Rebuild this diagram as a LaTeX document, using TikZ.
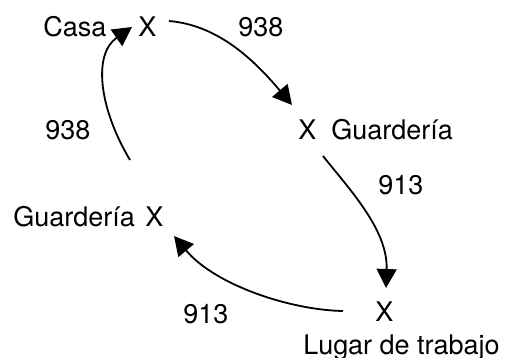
\documentclass[tikz,border=0pt]{standalone}
\usepackage{fontspec}
\setmainfont{TeX Gyre Heros}
\usetikzlibrary{arrows.meta}
\begin{document}
\begin{tikzpicture}[x=0.5pt,y=-0.5pt,
  lbl/.style={inner sep=0pt,anchor=base west,font=\fontsize{13.5}{16}\selectfont},
  conn/.style={line width=0.9pt,-{Triangle[length=9.5pt,width=10pt]}}]
\useasboundingbox (0,0) rectangle (510,358);
% texts
\node[lbl] (casa) at (43,37) {Casa};
\node[lbl] (xA) at (138,37) {X};
\node[lbl] (n938a) at (238,37) {938};
\node[lbl] (n938b) at (45,140) {938};
\node[lbl] (xB) at (298,140) {X};
\node[lbl] (guardB) at (331,140) {Guardería};
\node[lbl] (n913a) at (378,195) {913};
\node[lbl] (guardD) at (13,227) {Guardería};
\node[lbl] (xD) at (145,227) {X};
\node[lbl] (n913b) at (183,324) {913};
\node[lbl] (xC) at (375,322) {X};
\node[lbl] (lugar) at (303,355) {Lugar de trabajo};
% connector ends
\coordinate (a0) at (169,21);
\coordinate (a1) at (292,105);
\coordinate (b0) at (323,156);
\coordinate (b1) at (386,288);
\coordinate (c0) at (343,311);
\coordinate (c1) at (174,236);
\coordinate (d0) at (130,160);
\coordinate (d1) at (132,27);
% connectors
\draw[conn] (a0) .. controls (215,25) and (250,55) .. (a1);
\draw[conn] (b0) .. controls (350,190) and (388,230) .. (b1);
\draw[conn] (c0) .. controls (290,310) and (215,285) .. (c1);
\draw[conn] (d0) .. controls (100,110) and (92,55) .. (d1);
\end{tikzpicture}
\end{document}
